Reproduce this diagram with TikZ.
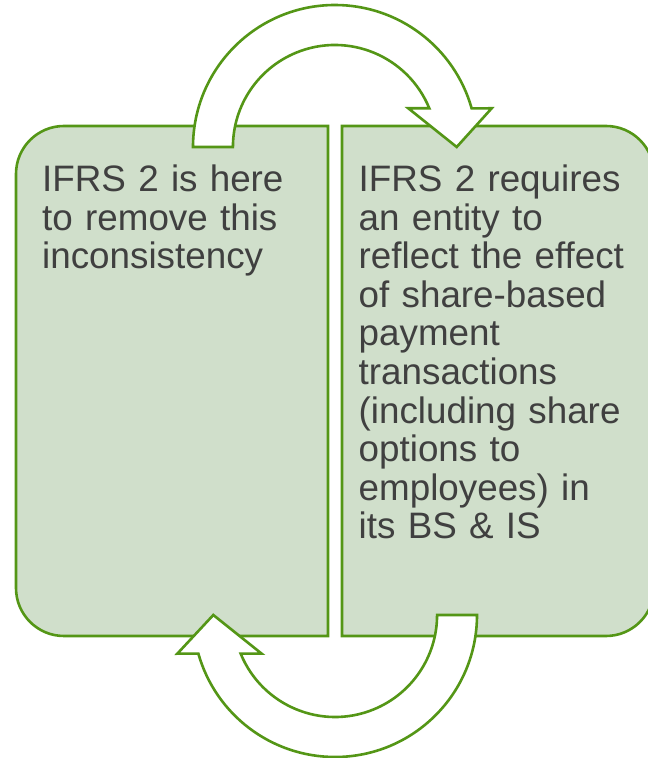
\documentclass[tikz,border=0pt]{standalone}
\usepackage{fontspec}
\setmainfont{Liberation Sans}
\definecolor{edgegreen}{RGB}{84,150,22}
\definecolor{panelfill}{RGB}{208,223,203}
\definecolor{inkgray}{RGB}{64,64,64}
\begin{document}
\begin{tikzpicture}[x=1pt,y=1pt,
  panel/.style={draw=edgegreen,fill=panelfill,line width=2.6pt,line join=miter},
  bendarrow/.style={draw=edgegreen,fill=white,line width=2.6pt,line join=miter},
  bodytext/.style={inner sep=0pt,anchor=base west,align=left,text width=300pt,
    text=inkgray,font=\fontsize{36.8}{38.6}\selectfont}]
\clip (0,0) rectangle (648,758);

% left panel: rounded on the outer (left) side only
\draw[panel] (328,632) -- (64,632)
  arc[start angle=90,end angle=180,radius=48] -- (16,170)
  arc[start angle=180,end angle=270,radius=48] -- (328,122) -- cycle;

% right panel: rounded on the outer (right) side only
\draw[panel] (342,632) -- (606,632)
  arc[start angle=90,end angle=0,radius=48] -- (654,170)
  arc[start angle=0,end angle=-90,radius=48] -- (342,122) -- cycle;

% panel texts
\node[bodytext] (lefttext) at (42,566.5)
  {IFRS 2 is here\\to remove this\\inconsistency};
\node[bodytext] (righttext) at (358.5,566.5)
  {IFRS 2 requires\\an entity to\\reflect the effect\\of share-based\\payment\\transactions\\(including share\\options to\\employees) in\\its BS \& IS};

% upper curved arrow, left to right (centre 335,611)
\draw[bendarrow] (193,611)
  arc[start angle=180,end angle=15.8,radius=142]
  -- (491.7,649.7) -- (456.7,611) -- (408.3,649.7) -- (429.3,649.7)
  arc[start angle=22.3,end angle=180,radius=102] -- cycle;

% lower curved arrow, right to left (centre 335,143)
\draw[bendarrow] (477,143)
  arc[start angle=0,end angle=-164.2,radius=142]
  -- (177.3,104.3) -- (213.3,143) -- (261.7,104.3) -- (240.7,104.3)
  arc[start angle=-157.7,end angle=0,radius=102] -- cycle;
\end{tikzpicture}
\end{document}
